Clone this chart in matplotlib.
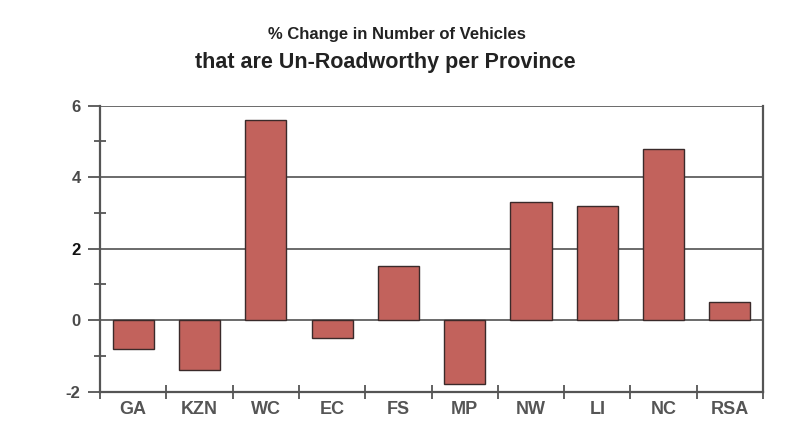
import matplotlib
matplotlib.use('Agg')
import matplotlib.pyplot as plt
import numpy as np

provinces = ['GA', 'KZN', 'WC', 'EC', 'FS', 'MP', 'NW', 'LI', 'NC', 'RSA']
pct_change = [-0.8, -1.4, 5.6, -0.5, 1.5, -1.8, 3.3, 3.2, 4.8, 0.5]
y_ticks = [-2, 0, 2, 4, 6]

plt.rcParams['font.family'] = ['Liberation Sans', 'DejaVu Sans']

fig = plt.figure(figsize=(7.94, 4.4), dpi=100)
ax = fig.add_axes([0.126, 0.11, 0.835, 0.65])

x = np.arange(len(provinces))
ax.bar(x, pct_change, width=0.62, color='#c2625c', edgecolor='#3a2a2a', linewidth=1.0, zorder=3)

ax.set_xlim(-0.5, len(provinces) - 0.5)
ax.set_ylim(-2, 6)

# gridlines + zero line
for yv in [0, 2, 4, 6]:
    ax.axhline(yv, color='#6a6a6a', linewidth=1.4, zorder=1)

ax.set_yticks(y_ticks)
ax.set_yticklabels([str(v) for v in y_ticks], fontweight='bold', fontsize=12, color='#4a4a4a')
ax.get_yticklabels()[2].set_color('#111111')  # the "2" prints darker in the scan
ax.set_yticks([-1, 1, 3, 5], minor=True)
ax.tick_params(axis='y', which='major', direction='out', length=9, width=1.3, color='#555555', pad=5)
ax.tick_params(axis='y', which='minor', direction='inout', length=8, width=1.3, color='#555555')

ax.set_xticks(x)
ax.set_xticklabels(provinces, fontweight='bold', fontsize=13, color='#555555')
ax.tick_params(axis='x', which='major', length=0, pad=7)
ax.set_xticks(np.arange(len(provinces) + 1) - 0.5, minor=True)
ax.tick_params(axis='x', which='minor', direction='inout', length=10, width=1.3, color='#555555')

for side in ['left', 'bottom', 'right']:
    ax.spines[side].set_color('#555555')
    ax.spines[side].set_linewidth(1.6)
ax.spines['top'].set_visible(False)

fig.text(0.5, 0.921, '% Change in Number of Vehicles', ha='center', va='center',
         fontsize=12, fontweight='bold', color='#222222')
fig.text(0.485, 0.858, 'that are Un-Roadworthy per Province', ha='center', va='center',
         fontsize=15.5, fontweight='bold', color='#222222')

fig.savefig('out.png', dpi=100)
